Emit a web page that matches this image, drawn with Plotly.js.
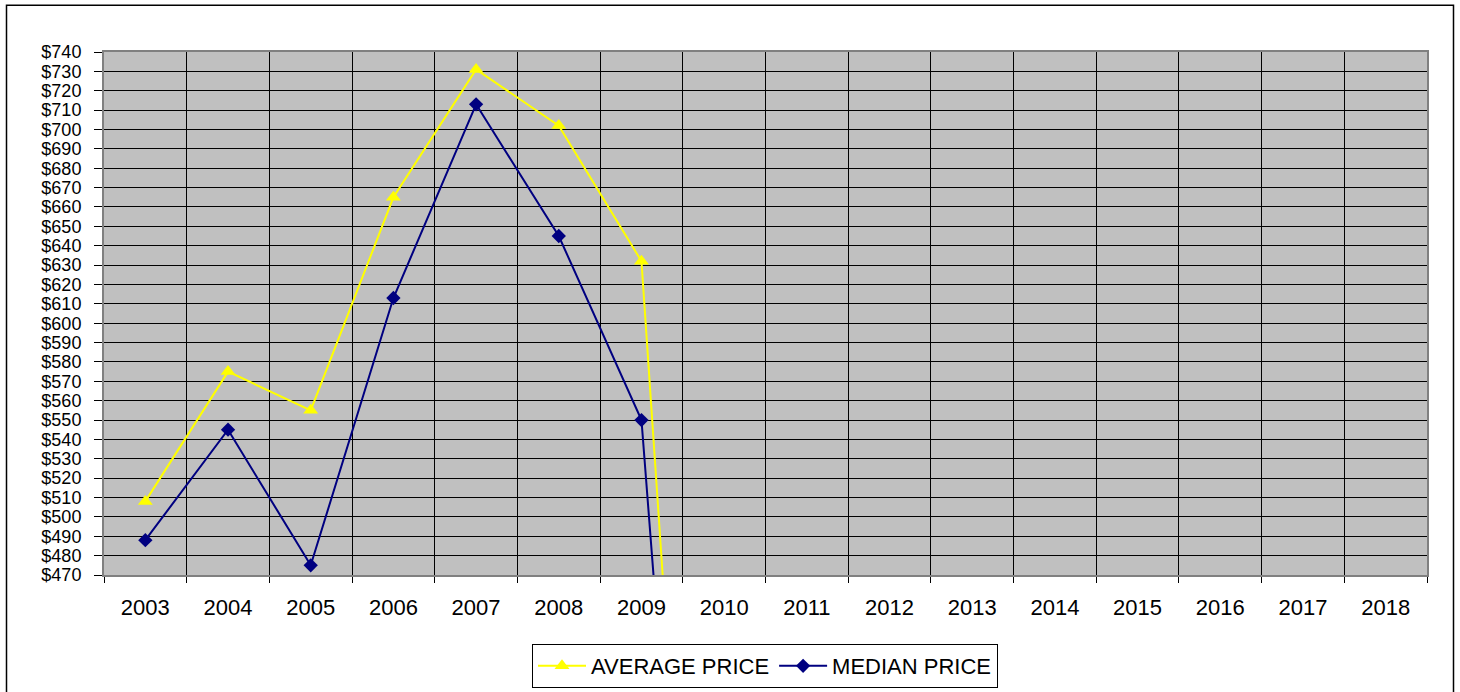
<!DOCTYPE html>
<html>
<head>
<meta charset="utf-8">
<script src="https://cdn.plot.ly/plotly-3.0.1.min.js"></script>
<style>
html,body{margin:0;padding:0;background:#fff;}
#chart{width:1460px;height:692px;}
</style>
</head>
<body>
<div id="chart"></div>
<script>
var years = ["2003","2004","2005","2006","2007","2008","2009","2010","2011","2012","2013","2014","2015","2016","2017","2018"];
var averagePrice = [508, 575, 555, 665, 731, 702, 632, 0, null, null, null, null, null, null, null, null];
var medianPrice  = [488, 545, 475, 613, 713, 645, 550, 0, null, null, null, null, null, null, null, null];

var W = 1460, H = 692;
var L = 104, R = 1427, T = 51.7, B = 575;
var pw = R - L, ph = B - T;
function px(x){ return (x - L) / pw; }
function py(y){ return (B - y) / ph; }

var traces = [
  {
    x: years, y: averagePrice, name: "AVERAGE PRICE", type: "scatter", mode: "lines+markers",
    line: {color: "#FFFF00", width: 2},
    marker: {symbol: "triangle-up", size: 13, color: "#FFFF00"},
    cliponaxis: true, connectgaps: false
  },
  {
    x: years, y: medianPrice, name: "MEDIAN PRICE", type: "scatter", mode: "lines+markers",
    line: {color: "#000080", width: 2},
    marker: {symbol: "diamond", size: 11, color: "#000080"},
    cliponaxis: true, connectgaps: false
  }
];

var layout = {
  width: W, height: H,
  margin: {l: L, r: W - R, t: T, b: H - B, pad: 0, autoexpand: false},
  paper_bgcolor: "#FFFFFF",
  plot_bgcolor: "#C0C0C0",
  font: {family: "Liberation Sans, Arial, sans-serif", size: 20, color: "#000"},
  showlegend: true,
  legend: {
    orientation: "h", xref: "container", yref: "container",
    x: 765 / W, xanchor: "center", y: 1 - 644 / H, yanchor: "top",
    bgcolor: "#FFFFFF", bordercolor: "#000000", borderwidth: 1,
    font: {size: 22, color: "#000"}, itemwidth: 48, tracegroupgap: 0
  },
  xaxis: {
    type: "category", categoryorder: "array", categoryarray: years,
    range: [-0.5, years.length - 0.5],
    tickson: "boundaries", ticks: "outside", ticklen: 6, tickcolor: "#000",
    ticklabelstandoff: 12,
    showgrid: true, gridcolor: "#000000", gridwidth: 1,
    showline: true, linecolor: "#808080", linewidth: 2, mirror: true,
    tickfont: {size: 22}, zeroline: false, fixedrange: true
  },
  yaxis: {
    range: [470, 740], dtick: 10, tick0: 470, tickprefix: "$",
    ticks: "outside", ticklen: 8, tickcolor: "#000",
    ticklabelstandoff: 9,
    showgrid: true, gridcolor: "#000000", gridwidth: 1,
    showline: true, linecolor: "#808080", linewidth: 2, mirror: true,
    tickfont: {size: 18}, zeroline: false, fixedrange: true
  },
  shapes: [
    {type: "rect", xref: "paper", yref: "paper",
     x0: px(6.5), x1: px(1453.5), y0: py(720), y1: py(5),
     line: {color: "#000", width: 1.5}, fillcolor: "rgba(0,0,0,0)", layer: "below"}
  ]
};

Plotly.newPlot("chart", traces, layout, {displayModeBar: false, staticPlot: true});
</script>
</body>
</html>
